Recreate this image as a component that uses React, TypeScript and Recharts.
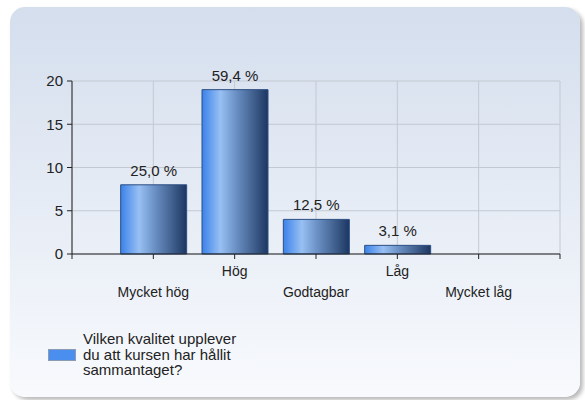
import React from "react";
import { BarChart, Bar, XAxis, YAxis, CartesianGrid, LabelList } from "recharts";

const categories = ["Mycket hög", "Hög", "Godtagbar", "Låg", "Mycket låg"];
const counts = [8, 19, 4, 1, 0];
const percentLabels = ["25,0 %", "59,4 %", "12,5 %", "3,1 %", ""];
const yTicks = [0, 5, 10, 15, 20];
const xTicks = [0, 1, 2, 3, 4, 5, 6];
const seriesName = "Vilken kvalitet upplever du att kursen har hållit sammantaget?";

const data = categories.map((name, i) => ({
  pos: i + 1,
  name,
  value: counts[i],
  label: percentLabels[i],
}));

const FONT = '"Liberation Sans", Arial, sans-serif';

const CategoryTick = (props: any) => {
  const { x, y, payload } = props;
  const idx = payload.value - 1;
  if (idx < 0 || idx >= categories.length) return <g />;
  const lower = idx % 2 === 0;
  return (
    <text
      x={x}
      y={y + (lower ? 36 : 15)}
      textAnchor="middle"
      fontSize={14}
      fontFamily={FONT}
      fill="#222"
    >
      {categories[idx]}
    </text>
  );
};

export default function App() {
  return (
    <div
      style={{
        position: "absolute",
        left: 0,
        top: 0,
        width: 585,
        height: 400,
        background: "#ffffff",
        overflow: "hidden",
        fontFamily: FONT,
      }}
    >
      <div
        style={{
          position: "absolute",
          left: 10,
          top: 7,
          width: 570,
          height: 390,
          borderRadius: 15,
          background: "linear-gradient(to bottom, #d4deed 0%, #e6ecf5 50%, #f8fafd 100%)",
          boxShadow: "3px 3px 4px rgba(0,0,0,0.28)",
        }}
      />
      <div style={{ position: "absolute", left: 0, top: 0 }}>
        <BarChart
          width={585}
          height={400}
          data={data}
          margin={{ top: 81, right: 25, bottom: 0, left: 0 }}
        >
          <defs>
            <linearGradient id="barGrad" x1="0" y1="0" x2="1" y2="0">
              <stop offset="0%" stopColor="#3b82ea" />
              <stop offset="28%" stopColor="#98c0f3" />
              <stop offset="50%" stopColor="#6d93c8" />
              <stop offset="78%" stopColor="#41608e" />
              <stop offset="100%" stopColor="#1c3662" />
            </linearGradient>
          </defs>
          <CartesianGrid
            stroke="#c3c9d2"
            strokeWidth={1}
            horizontalValues={yTicks}
            verticalValues={xTicks}
          />
          <XAxis
            dataKey="pos"
            type="number"
            domain={[0, 6]}
            ticks={xTicks}
            interval={0}
            height={146}
            tickSize={5}
            tickMargin={2}
            axisLine={{ stroke: "#222" }}
            tickLine={{ stroke: "#222" }}
            tick={<CategoryTick />}
          />
          <YAxis
            domain={[0, 20]}
            ticks={yTicks}
            width={72}
            tickSize={5}
            tickMargin={4}
            axisLine={{ stroke: "#222" }}
            tickLine={{ stroke: "#222" }}
            tick={{ fontSize: 15, fontFamily: FONT, fill: "#222" }}
          />
          <Bar
            dataKey="value"
            name={seriesName}
            barSize={66}
            fill="url(#barGrad)"
            stroke="#2d4f82"
            strokeWidth={1}
            isAnimationActive={false}
          >
            <LabelList
              dataKey="label"
              position="top"
              offset={9}
              fontSize={15}
              fontFamily={FONT}
              fill="#222"
            />
          </Bar>
        </BarChart>
      </div>
      <div
        style={{
          position: "absolute",
          left: 48,
          top: 349,
          width: 28,
          height: 12,
          background: "#4a8ef0",
          border: "1px solid #8a9bb3",
          boxSizing: "border-box",
        }}
      />
      <div
        style={{
          position: "absolute",
          left: 83,
          top: 331,
          width: 162,
          fontSize: 15,
          lineHeight: "15.5px",
          color: "#222",
          fontFamily: FONT,
        }}
      >
        {seriesName}
      </div>
    </div>
  );
}
